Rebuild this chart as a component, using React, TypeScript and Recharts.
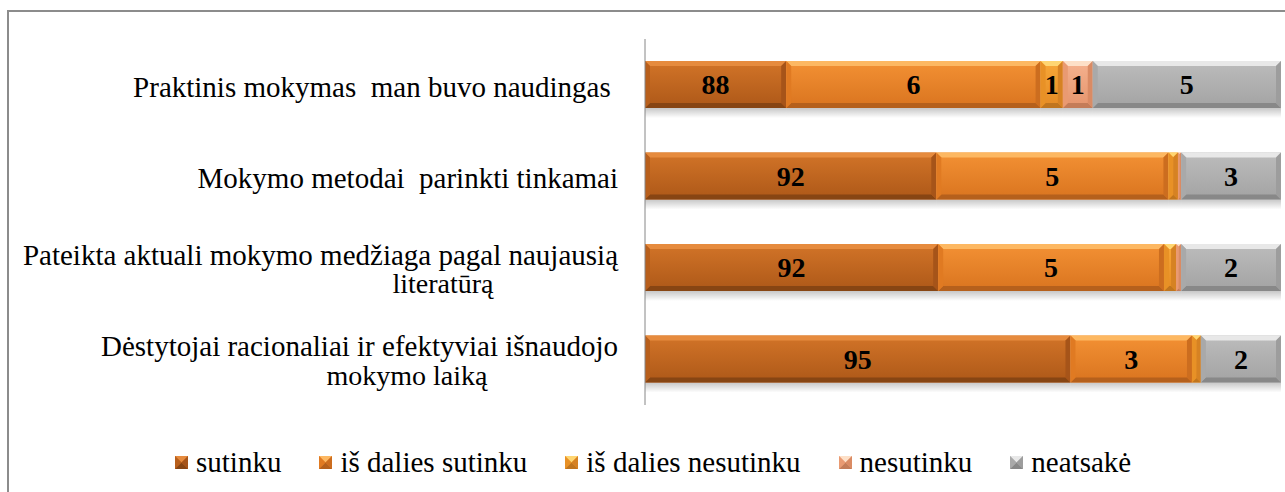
import React from "react";
import { BarChart, Bar, XAxis, YAxis, LabelList } from "recharts";

// ==================== duomenys ====================
const categories = [
  "Praktinis mokymas  man buvo naudingas ",
  "Mokymo metodai  parinkti tinkamai",
  "Pateikta aktuali mokymo medžiaga pagal naujausią\nliteratūrą",
  "Dėstytojai racionaliai ir efektyviai išnaudojo\nmokymo laiką",
];

// segment lengths as drawn (share of the bar)
const sutinku = [22.2, 45.8, 46.1, 66.9];
const isDaliesSutinku = [40.0, 36.5, 35.5, 19.1];
const isDaliesNesutinku = [3.5, 1.5, 1.9, 1.4];
const nesutinku = [4.7, 0.5, 0.8, 0];
const neatsake = [29.6, 15.7, 15.7, 12.6];

// data labels printed on the segments
const lblSutinku = ["88", "92", "92", "95"];
const lblIsDaliesSutinku = ["6", "5", "5", "3"];
const lblIsDaliesNesutinku = ["1", "", "", ""];
const lblNesutinku = ["1", "", "", ""];
const lblNeatsake = ["5", "3", "2", "2"];

const seriesNames = ["sutinku", "iš dalies sutinku", "iš dalies nesutinku", "nesutinku", "neatsakė"];

const data = categories.map((name, i) => ({
  name,
  s1: sutinku[i],
  s2: isDaliesSutinku[i],
  s3: isDaliesNesutinku[i],
  s4: nesutinku[i],
  s5: neatsake[i],
  l1: lblSutinku[i],
  l2: lblIsDaliesSutinku[i],
  l3: lblIsDaliesNesutinku[i],
  l4: lblNesutinku[i],
  l5: lblNeatsake[i],
}));

type Pal = { top: string; bottom: string; light: string; dark: string; side: string; side2: string };

const palettes: Pal[] = [
  { top: "#d27428", bottom: "#ad5818", light: "#e68b3e", dark: "#874513", side: "#b85f1c", side2: "#a65419" },
  { top: "#f39134", bottom: "#d9741f", light: "#fdb862", dark: "#b5601c", side: "#e07a22", side2: "#cc6d1f" },
  { top: "#f8a838", bottom: "#e48a24", light: "#ffd672", dark: "#c0751e", side: "#e89126", side2: "#d68223" },
  { top: "#f5b28f", bottom: "#e5946c", light: "#fde0c8", dark: "#c47c58", side: "#e99a72", side2: "#da8b64" },
  { top: "#bcbcbc", bottom: "#a3a3a3", light: "#e8e8e8", dark: "#888888", side: "#a9a9a9", side2: "#9d9d9d" },
];

const FONT = "Liberation Serif, Tinos, Times New Roman, DejaVu Serif, serif";
const LABEL_RIGHT = 618;
const secondLineCenter = [0, 0, 443, 407];

// ==================== bevel segmentas ====================
function Bevel({ x, y, width, height, pal, idx, bevel = 5, shadow = true }: any) {
  if (!width || width <= 0) return null;
  const w = width;
  const h = height;
  const b = Math.min(bevel, w / 2, h / 2);
  const gid = `face${idx}`;
  return (
    <g>
      <defs>
        <linearGradient id={gid} x1="0" y1="0" x2="0" y2="1">
          <stop offset="0%" stopColor={pal.top} />
          <stop offset="100%" stopColor={pal.bottom} />
        </linearGradient>
        <linearGradient id="barShadow" x1="0" y1="0" x2="0" y2="1">
          <stop offset="0%" stopColor="#000" stopOpacity={0.22} />
          <stop offset="100%" stopColor="#000" stopOpacity={0} />
        </linearGradient>
      </defs>
      {shadow && <rect x={x} y={y + h} width={w} height={10} fill="url(#barShadow)" />}
      <rect x={x} y={y} width={w} height={h} fill={`url(#${gid})`} />
      <polygon points={`${x},${y} ${x + w},${y} ${x + w - b},${y + b} ${x + b},${y + b}`} fill={pal.light} />
      <polygon points={`${x},${y + h} ${x + w},${y + h} ${x + w - b},${y + h - b} ${x + b},${y + h - b}`} fill={pal.dark} />
      <polygon points={`${x},${y} ${x + b},${y + b} ${x + b},${y + h - b} ${x},${y + h}`} fill={pal.side} />
      <polygon points={`${x + w},${y} ${x + w - b},${y + b} ${x + w - b},${y + h - b} ${x + w},${y + h}`} fill={pal.side2} />
    </g>
  );
}

function CategoryTick({ y, payload, index }: any) {
  const lines = String(payload.value).split("\n");
  const common = { fontFamily: FONT, fontSize: 29, fill: "#000", dominantBaseline: "central" as const, xmlSpace: "preserve" };
  if (lines.length === 1) {
    return (
      <text x={LABEL_RIGHT} y={y + 2} textAnchor="end" {...common} style={{ whiteSpace: "pre" }}>
        {lines[0]}
      </text>
    );
  }
  return (
    <g>
      <text x={LABEL_RIGHT} y={y - 13} textAnchor="end" {...common} style={{ whiteSpace: "pre" }}>
        {lines[0]}
      </text>
      <text x={secondLineCenter[index] || LABEL_RIGHT - 180} y={y + 16} textAnchor="middle" {...common} fontSize={28} style={{ whiteSpace: "pre" }}>
        {lines[1]}
      </text>
    </g>
  );
}

function ChartLegend() {
  return (
    <div
      style={{
        position: "absolute",
        left: 175,
        top: 447,
        display: "flex",
        alignItems: "center",
        gap: 38,
        fontFamily: FONT,
        fontSize: 29,
        lineHeight: "30px",
        whiteSpace: "nowrap",
      }}
    >
      {seriesNames.map((n, i) => (
        <div key={n} style={{ display: "flex", alignItems: "center", gap: 8 }}>
          <svg width={13} height={13} style={{ display: "block" }}>
            <Bevel x={0} y={0} width={13} height={13} pal={palettes[i]} idx={`lg${i}`} bevel={6.5} shadow={false} />
          </svg>
          <span>{n}</span>
        </div>
      ))}
    </div>
  );
}

export default function App() {
  const keys = ["s1", "s2", "s3", "s4", "s5"];
  const lkeys = ["l1", "l2", "l3", "l4", "l5"];
  return (
    <div style={{ position: "absolute", left: 0, top: 0, width: 1285, height: 492, background: "#fff", overflow: "hidden", fontFamily: FONT }}>
      <div
        style={{
          position: "absolute",
          left: 7,
          top: 10,
          width: 1300,
          height: 500,
          borderLeft: "2px solid #8c8c8c",
          borderTop: "2px solid #8c8c8c",
        }}
      />
      <div style={{ position: "absolute", left: 0, top: 0 }}>
        <BarChart
          width={1285}
          height={492}
          data={data}
          layout="vertical"
          stackOffset="expand"
          barSize={47}
          margin={{ top: 39, right: 4, bottom: 87, left: 0 }}
        >
          <XAxis type="number" domain={[0, 1]} hide />
          <YAxis
            type="category"
            dataKey="name"
            width={645}
            axisLine={{ stroke: "#868686", strokeWidth: 1 }}
            tickLine={false}
            tick={<CategoryTick />}
            interval={0}
          />
          {keys.map((k, i) => (
            <Bar
              key={k}
              dataKey={k}
              stackId="a"
              name={seriesNames[i]}
              isAnimationActive={false}
              shape={(p: any) => <Bevel {...p} pal={palettes[i]} idx={k} />}
            >
              <LabelList
                dataKey={lkeys[i]}
                position="center"
                fontFamily={FONT}
                fontSize={28}
                fontWeight={700}
                fill="#000"
              />
            </Bar>
          ))}
        </BarChart>
      </div>
      <ChartLegend />
    </div>
  );
}
